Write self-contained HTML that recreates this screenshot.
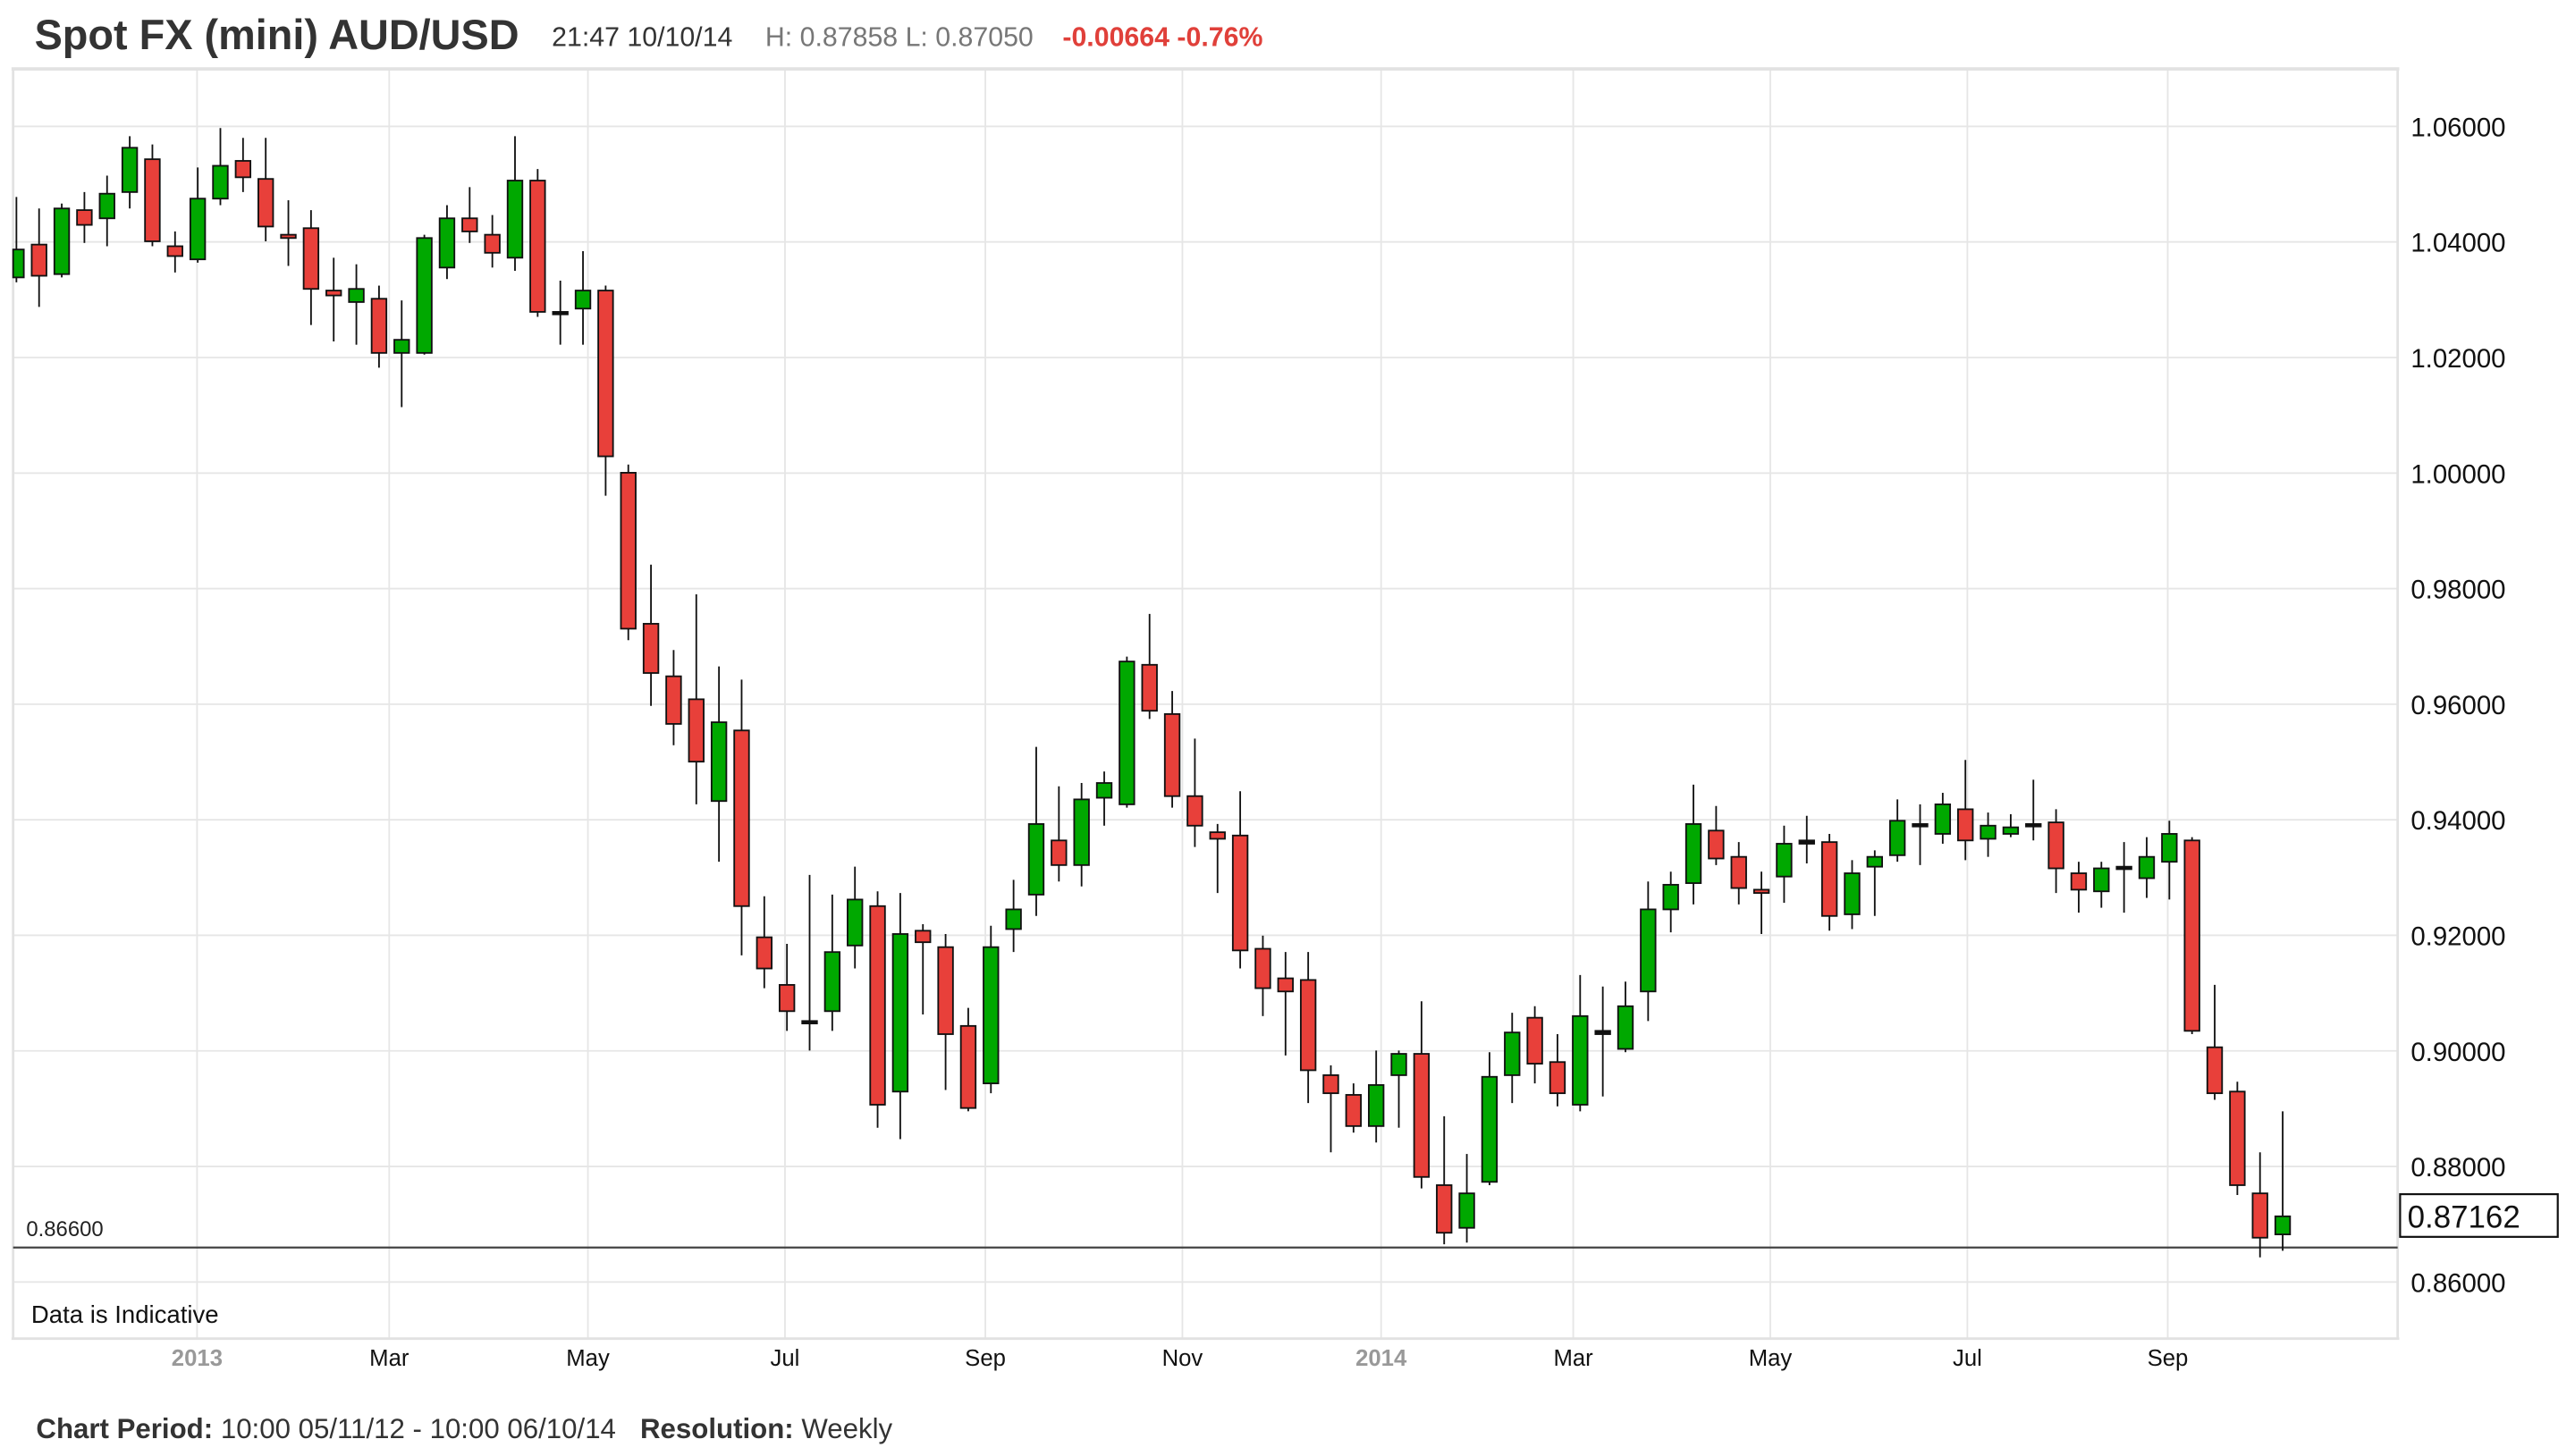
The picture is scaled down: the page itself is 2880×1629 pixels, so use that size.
<!DOCTYPE html>
<html><head><meta charset="utf-8"><style>
html,body{margin:0;padding:0;background:#fff;width:2880px;height:1629px;overflow:hidden}
svg{display:block}
text{font-family:"Liberation Sans",Arial,sans-serif}
</style></head><body>
<svg id="s" width="2880" height="1629" viewBox="0 0 1568 887" preserveAspectRatio="none" xmlns="http://www.w3.org/2000/svg">
<rect width="1568" height="887" fill="#fff"/>
<text x="21" y="30" font-size="25.5" font-weight="bold" fill="#333">Spot FX (mini) AUD/USD</text>
<text x="336" y="28" font-size="16.5" fill="#333">21:47 10/10/14</text>
<text x="466" y="28" font-size="16.5" fill="#777">H: 0.87858  L: 0.87050</text>
<text x="647" y="28" font-size="16.5" font-weight="bold" fill="#e0403a">-0.00664  -0.76%</text>
<line x1="7" y1="42" x2="1461" y2="42" stroke="#e2e2e2" stroke-width="2"/>
<g id="grid" stroke="#e6e6e6" stroke-width="1"></g>
<line x1="8" y1="42" x2="8" y2="815" stroke="#e2e2e2" stroke-width="1.5"/>
<line x1="1460" y1="42" x2="1460" y2="816" stroke="#e2e2e2" stroke-width="1.5"/>
<line x1="7" y1="815.5" x2="1461" y2="815.5" stroke="#e2e2e2" stroke-width="1.5"/>
<g id="ylab" font-size="16" fill="#111"></g>
<g id="xlab" font-size="14"></g>
<line x1="8" y1="760" x2="1460" y2="760" stroke="#444" stroke-width="1.2"/>
<text x="16" y="753" font-size="13" fill="#222">0.86600</text>
<text x="19" y="806" font-size="15" fill="#111">Data is Indicative</text>
<g id="c" stroke="#111" stroke-width="1"></g>
<rect x="1461.5" y="727.5" width="96" height="26" fill="#fff" stroke="#111" stroke-width="1.2"/>
<text x="1466" y="748" font-size="19" fill="#111">0.87162</text>
<text x="22" y="876" font-size="17" fill="#333"><tspan font-weight="bold">Chart Period:</tspan> 10:00 05/11/12 - 10:00 06/10/14    <tspan font-weight="bold" dx="10">Resolution:</tspan> Weekly</text>
</svg>
<script>
var NS="http://www.w3.org/2000/svg";
function el(p,t,a,txt){var e=document.createElementNS(NS,t);for(var k in a)e.setAttribute(k,a[k]);if(txt)e.textContent=txt;document.getElementById(p).appendChild(e);return e;}
var ly=["1.06000","1.04000","1.02000","1.00000","0.98000","0.96000","0.94000","0.92000","0.90000","0.88000","0.86000"];
for(var i=0;i<11;i++){var y=77+i*70.4;el("grid","line",{x1:8,y1:y,x2:1460,y2:y});el("ylab","text",{x:1468,y:y+6},ly[i]);}
var xs=[[120,"2013",1],[237,"Mar"],[358,"May"],[478,"Jul"],[600,"Sep"],[720,"Nov"],[841,"2014",1],[958,"Mar"],[1078,"May"],[1198,"Jul"],[1320,"Sep"]];
xs.forEach(function(a){el("grid","line",{x1:a[0],y1:43,x2:a[0],y2:815});var t=el("xlab","text",{x:a[0],y:832,"text-anchor":"middle",fill:a[2]?"#999":"#111","font-weight":a[2]?"bold":"normal"},a[1]);});
var d=[
["g",152,169,120,172],["r",149,168,127,187],["g",127,167,124,169],["r",128,137,117,148],["g",118,133,107,150],["g",90,117,83,127],["r",97,147,88,150],["r",150,156,141,166],["g",121,158,102,160],["g",101,121,78,125],
["r",98,108,84,117],["r",109,138,84,147],["r",143,145,122,162],["r",139,176,128,198],["r",177,180,157,208],["g",176,184,161,210],["r",182,215,174,224],["g",207,215,183,248],["g",145,215,143,216],["g",133,163,125,170],
["r",133,141,114,148],["r",143,154,131,163],["g",110,157,83,165],["r",110,190,103,193],["d",190,191,171,210],["g",177,188,153,210],["r",177,278,174,302],["r",288,383,283,390],["r",380,410,344,430],["r",412,441,396,454],
["r",426,464,362,490],["g",440,488,406,525],["r",445,552,414,582],["r",571,590,546,602],["r",600,616,575,628],["d",622,623,533,640],["g",580,616,545,628],["g",548,576,528,590],["r",552,673,543,687],["g",569,665,544,694],
["r",567,574,563,618],["r",577,630,569,664],["r",625,675,614,677],["g",577,660,564,666],["g",554,566,536,580],["g",502,545,455,558],["r",512,527,479,537],["g",487,527,477,540],["g",477,486,470,503],["g",403,490,400,492],
["r",405,433,374,438],["r",435,485,421,492],["r",485,503,450,516],["r",507,511,502,544],["r",509,579,482,590],["r",578,602,570,619],["r",596,604,580,643],["r",597,652,580,672],["r",655,666,649,702],["r",667,686,660,690],
["g",661,686,640,696],["g",642,655,640,687],["r",642,717,610,724],["r",722,751,680,758],["g",727,748,703,757],["g",656,720,641,722],["g",629,655,617,672],["r",620,648,613,660],["r",647,666,630,674],["g",619,673,594,677],
["d",628,630,601,668],["g",613,639,598,641],["g",554,604,537,622],["g",539,554,531,568],["g",502,538,478,551],["r",506,523,491,527],["r",522,541,513,551],["r",542,544,531,569],["g",514,534,503,550],["d",512,514,497,526],
["r",513,558,508,567],["g",532,557,524,566],["g",522,528,518,558],["g",500,521,487,525],["d",502,503,490,527],["g",490,508,483,514],["r",493,512,463,524],["g",503,511,495,522],["g",504,508,496,510],["d",502,503,475,512],
["r",501,529,493,544],["r",532,542,525,556],["g",529,543,525,553],["d",528,529,513,556],["g",522,535,510,547],["g",508,525,500,548],["r",512,628,510,630],["r",638,666,600,670],["r",665,722,659,728],["r",727,754,702,766],
["g",741,752,677,762]];
d.forEach(function(c,i){var x=10+i*13.8;var top=Math.max(c[3],43);
el("c","line",{x1:x,y1:top,x2:x,y2:c[4]});
var h=Math.max(c[2]-c[1],1.5);var f=c[0]=="g"?"#00a800":c[0]=="r"?"#e8403a":"#111";
var lx=x-4.5;var w=9;if(lx<8){w-= (8-lx);lx=8;}
el("c","rect",{x:lx,y:c[1],width:w,height:h,fill:f});});
</script>
</body></html>
